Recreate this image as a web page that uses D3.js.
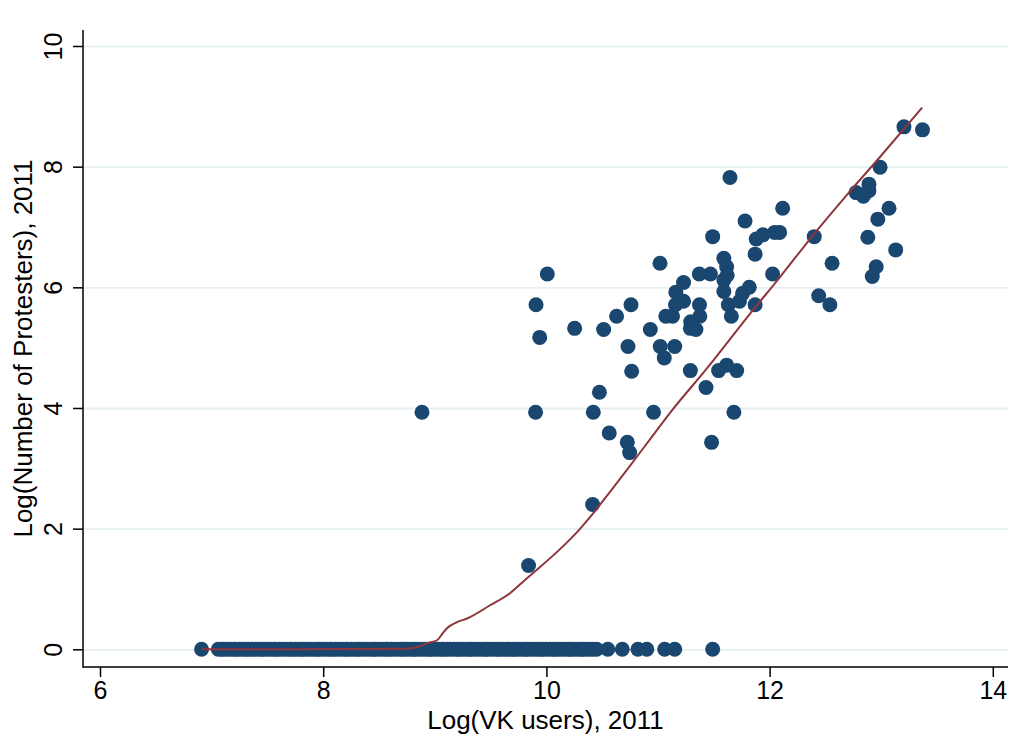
<!DOCTYPE html>
<html>
<head>
<meta charset="utf-8">
<script src="https://cdn.jsdelivr.net/npm/d3@7"></script>
<style>
  body { margin: 0; background: #fff; }
  svg { display: block; font-family: "Liberation Sans", Arial, Helvetica, sans-serif; }
</style>
</head>
<body>
<script>
// regions with at least one protest: [log VK users, log protesters]
const protestX = [8.885, 9.84, 9.903, 9.907, 9.94, 10.008, 10.253, 10.414, 10.42, 10.475,
  10.513, 10.563, 10.629, 10.725, 10.746, 10.731, 10.758, 10.764, 10.931, 10.96,
  11.018, 11.02, 11.056, 11.07, 11.13, 11.15, 11.157, 11.16, 11.229, 11.229,
  11.29, 11.293, 11.34, 11.372, 11.375, 11.37, 11.29, 11.43, 11.47, 11.49,
  11.48, 11.543, 11.59, 11.615, 11.62, 11.59, 11.59, 11.615, 11.63, 11.645,
  11.657, 11.68, 11.705, 11.73, 11.758, 11.78, 11.818, 11.87, 11.87, 11.88,
  11.94, 12.027, 12.045, 12.09, 12.117, 12.40, 12.44, 12.54, 12.56, 12.775,
  12.84, 12.89, 12.89, 12.88, 12.92, 12.955, 12.97, 12.99, 13.07, 13.13,
  13.204, 13.37];
const protestY = [3.93, 1.39, 3.93, 5.71, 5.17, 6.22, 5.32, 2.40, 3.93, 4.26,
  5.30, 3.585, 5.52, 3.43, 3.26, 5.02, 5.71, 4.61, 5.30, 3.93,
  6.40, 5.02, 4.83, 5.52, 5.52, 5.02, 5.71, 5.92, 6.08, 5.77,
  5.32, 5.43, 5.30, 5.71, 5.52, 6.22, 4.62, 4.34, 6.22, 6.84,
  3.43, 4.62, 6.48, 6.34, 6.20, 6.12, 5.93, 4.71, 5.71, 7.82,
  5.52, 3.93, 4.62, 5.77, 5.90, 7.10, 6.00, 5.71, 6.55, 6.80,
  6.87, 6.22, 6.91, 6.91, 7.31, 6.84, 5.86, 5.71, 6.40, 7.57,
  7.51, 7.60, 7.71, 6.83, 6.18, 6.34, 7.13, 7.99, 7.31, 6.62,
  8.66, 8.61];

// regions with zero protesters (log = 0)
const zeroX = [6.91, 7.06, 7.09, 7.11, 7.14, 7.17, 7.20, 7.22, 7.25, 7.28, 7.31, 7.33, 7.36,
  7.39, 7.42, 7.45, 7.47, 7.50, 7.53, 7.56, 7.58, 7.61, 7.64, 7.67, 7.70, 7.72, 7.75,
  7.78, 7.81, 7.83, 7.86, 7.89, 7.92, 7.95, 7.97, 8.00, 8.03, 8.06, 8.08, 8.11, 8.14,
  8.17, 8.20, 8.22, 8.25, 8.28, 8.31, 8.33, 8.36, 8.39, 8.42, 8.45, 8.47, 8.50, 8.53,
  8.56, 8.58, 8.61, 8.64, 8.67, 8.70, 8.72, 8.75, 8.78, 8.81, 8.83, 8.86, 8.89, 8.92,
  8.95, 8.97, 9.00, 9.03, 9.06, 9.08, 9.11, 9.14, 9.17, 9.20, 9.22, 9.25, 9.28, 9.31,
  9.33, 9.36, 9.39, 9.42, 9.45, 9.47, 9.50, 9.53, 9.56, 9.58, 9.61, 9.64, 9.67, 9.70,
  9.72, 9.75, 9.78, 9.81, 9.83, 9.86, 9.89, 9.92, 9.95, 9.97, 10.00, 10.03, 10.06, 10.08,
  10.11, 10.14, 10.17, 10.20, 10.22, 10.25, 10.28, 10.31, 10.33, 10.36, 10.39, 10.42, 10.45,
  10.55, 10.68, 10.82, 10.90, 11.06, 11.15, 11.49];

// fitted curve
const fitX = [6.914, 7.792, 8.742, 8.867, 8.930, 9.020, 9.073, 9.109, 9.199, 9.289, 9.495,
  9.674, 9.808, 10.122, 10.283, 10.391, 10.570, 10.749, 10.928, 11.108, 11.440, 11.824, 12.093,
  12.362, 12.720, 12.989, 13.368];
const fitY = [0, 0, 0.01, 0.05, 0.10, 0.15, 0.27, 0.35, 0.45, 0.51, 0.73,
  0.93, 1.15, 1.66, 1.96, 2.19, 2.61, 3.04, 3.48, 3.92, 4.66, 5.56, 6.17,
  6.80, 7.59, 8.16, 8.98];

const xTicks = [6, 8, 10, 12, 14];
const yTicks = [0, 2, 4, 6, 8, 10];

const W = 1018, H = 740;
const plotLeft = 83, plotRight = 1008, plotTop = 30, plotBottom = 667;

const svg = d3.select("body").append("svg")
  .attr("width", W)
  .attr("height", H);

svg.append("rect").attr("width", W).attr("height", H).attr("fill", "#fff");

const x = d3.scaleLinear().domain([6, 14]).range([100, 992.8]);
const y = d3.scaleLinear().domain([0, 10]).range([649.3, 46]);

// gridlines
svg.append("g")
  .attr("transform", "translate(" + (plotLeft + 1) + ",0)")
  .call(d3.axisLeft(y).tickValues(yTicks).tickSize(-(plotRight - plotLeft - 1)).tickFormat(""))
  .call(g => g.select(".domain").remove())
  .call(g => g.selectAll("line").attr("stroke", "#e6eff2").attr("stroke-width", 1.8));

// zero row dots
const dotColor = "#1a476f";
svg.append("g").selectAll("circle")
  .data(zeroX)
  .enter()
  .append("circle")
  .attr("cx", d => x(d))
  .attr("cy", y(0))
  .attr("r", 7.5)
  .attr("fill", dotColor);

svg.append("g").selectAll("circle")
  .data(protestX.map((d, i) => [d, protestY[i]]))
  .enter()
  .append("circle")
  .attr("cx", d => x(d[0]))
  .attr("cy", d => y(d[1]))
  .attr("r", 7.5)
  .attr("fill", dotColor);

// fit line
const line = d3.line()
  .x(d => x(d[0]))
  .y(d => y(d[1]))
  .curve(d3.curveMonotoneX);

svg.append("path")
  .datum(fitX.map((d, i) => [d, fitY[i]]))
  .attr("d", line)
  .attr("fill", "none")
  .attr("stroke", "#90353b")
  .attr("stroke-width", 2);

// axes
const xAxis = d3.axisBottom(x).tickValues(xTicks).tickSize(10).tickPadding(4).tickFormat(d3.format("d"));
svg.append("g")
  .attr("transform", "translate(0," + plotBottom + ")")
  .call(xAxis)
  .call(g => g.select(".domain").remove())
  .call(g => g.selectAll("line").attr("stroke", "#000").attr("stroke-width", 1.5))
  .call(g => g.selectAll("text").attr("font-size", 25).attr("fill", "#000").attr("font-family", "Liberation Sans, Arial, sans-serif"));

const yAxis = d3.axisLeft(y).tickValues(yTicks).tickSize(10).tickFormat(d3.format("d"));
svg.append("g")
  .attr("transform", "translate(" + plotLeft + ",0)")
  .call(yAxis)
  .call(g => g.select(".domain").remove())
  .call(g => g.selectAll("line").attr("stroke", "#000").attr("stroke-width", 1.5))
  .call(g => g.selectAll("text")
    .attr("font-size", 25)
    .attr("fill", "#000")
    .attr("font-family", "Liberation Sans, Arial, sans-serif")
    .attr("text-anchor", "middle")
    .attr("dy", 0)
    .attr("x", 0)
    .attr("transform", "translate(-21,0) rotate(-90)"));

svg.append("line")
  .attr("x1", plotLeft).attr("x2", plotLeft).attr("y1", plotTop).attr("y2", plotBottom + 0.75)
  .attr("stroke", "#000").attr("stroke-width", 1.5);
svg.append("line")
  .attr("x1", plotLeft).attr("x2", plotRight).attr("y1", plotBottom).attr("y2", plotBottom)
  .attr("stroke", "#000").attr("stroke-width", 1.5);

// titles
svg.append("text")
  .attr("x", (plotLeft + plotRight) / 2)
  .attr("y", 729)
  .attr("text-anchor", "middle")
  .attr("font-size", 26)
  .text("Log(VK users), 2011");

svg.append("text")
  .attr("transform", "translate(32," + ((plotTop + plotBottom) / 2) + ") rotate(-90)")
  .attr("text-anchor", "middle")
  .attr("font-size", 26)
  .text("Log(Number of Protesters), 2011");
</script>
</body>
</html>
